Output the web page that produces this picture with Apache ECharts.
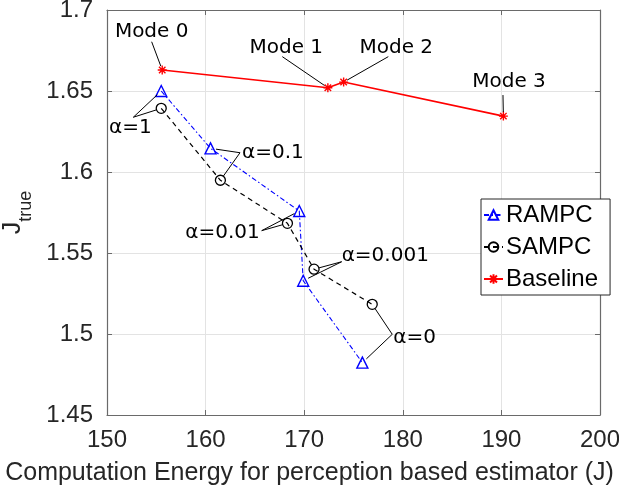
<!DOCTYPE html>
<html>
<head>
<meta charset="utf-8">
<script src="https://cdn.jsdelivr.net/npm/echarts@6/dist/echarts.min.js"></script>
<style>html,body{margin:0;padding:0;background:#fff}#c{width:619px;height:490px}</style>
</head>
<body>
<div id="c"></div>
<script>
// ---- data ----
const xTicks = [150, 160, 170, 180, 190, 200];
const yTicks = [1.45, 1.5, 1.55, 1.6, 1.65, 1.7];
const rampcX = [155.5, 160.5, 169.5, 169.9, 175.9];
const rampcY = [1.650, 1.6146, 1.5759, 1.5329, 1.4823];
const sampcX = [155.5, 161.5, 168.3, 171.0, 176.9];
const sampcY = [1.6393, 1.5949, 1.5683, 1.540, 1.5183];
const baseX = [155.6, 172.4, 174.0, 190.2];
const baseY = [1.663, 1.652, 1.6555, 1.6345];
const seriesNames = ['RAMPC', 'SAMPC', 'Baseline'];
const modeLabels = ['Mode 0', 'Mode 1', 'Mode 2', 'Mode 3'];
const alphaLabels = ['α=1', 'α=0.1', 'α=0.01', 'α=0.001', 'α=0'];

// annotation anchors (data coords where leader lines meet)
const modeAnchorX = [154.53, 167.78, 178.53, 190.16];
const modeAnchorY = [1.6804, 1.6712, 1.6712, 1.6475];
const alphaAnchorX = [152.67, 163.49, 165.69, 173.80, 178.93];
const alphaAnchorY = [1.6338, 1.6119, 1.5638, 1.5446, 1.4998];

// text placement relative to anchors (pixels) – style only
const modeTextPos = [[0,-10,'center'],[4,-9,'center'],[8,-9,'center'],[6,-13,'center']];
const alphaTextPos = [[-3,11,'center'],[2,0,'left'],[-2,2,'right'],[0,-6,'left'],[1,3,'left']];

const zip = (a, b) => a.map((v, i) => [v, b[i]]);
const axisCol = '#6a6a6a';
const txtCol = '#262626';
const asterisk = 'path://M0,-1L0,1M-1,0L1,0M-0.72,-0.72L0.72,0.72M-0.72,0.72L0.72,-0.72';

const chart = echarts.init(document.getElementById('c'), null, {renderer: 'canvas'});
const option = {
  animation: false,
  backgroundColor: '#fff',
  grid: {left: 107, right: 19, top: 10, bottom: 75, containLabel: false, outerBoundsMode: 'none'},
  legend: {
    orient: 'vertical', left: 481, top: 199,
    data: seriesNames,
    backgroundColor: '#fff', borderColor: '#262626', borderWidth: 1,
    padding: [4, 12, 4, 2], itemGap: 8, itemWidth: 19, itemHeight: 12,
    textStyle: {fontFamily: 'Liberation Sans', fontSize: 24, color: '#000', padding: [0,0,0,-2]}
  },
  xAxis: [{
    type: 'value', min: xTicks[0], max: xTicks[xTicks.length-1], interval: 10,
    name: 'Computation Energy for perception based estimator (J)',
    nameLocation: 'middle', nameGap: 46,
    nameTextStyle: {fontFamily: 'Liberation Sans', fontSize: 25, color: txtCol, padding: [0, 88, 0, 0]},
    axisLine: {show: true, onZero: false, lineStyle: {color: axisCol, width: 1.2}},
    axisTick: {show: true, inside: true, length: 5, lineStyle: {color: axisCol}},
    axisLabel: {fontFamily: 'Liberation Sans', fontSize: 24, color: txtCol, margin: 13},
    splitLine: {show: true, lineStyle: {color: '#e3e3e3', width: 1}}
  }, {
    type: 'value', position: 'top', min: xTicks[0], max: xTicks[xTicks.length-1], interval: 10,
    axisLine: {show: true, onZero: false, lineStyle: {color: axisCol, width: 1.2}},
    axisTick: {show: true, inside: true, length: 5, lineStyle: {color: axisCol}},
    axisLabel: {show: false}, splitLine: {show: false}
  }],
  yAxis: [{
    type: 'value', min: yTicks[0], max: yTicks[yTicks.length-1], interval: 0.05,
    name: '{a|J}{b|true}',
    nameLocation: 'middle', nameGap: 74, nameRotate: 90,
    nameTextStyle: {
      color: txtCol, fontFamily: 'Liberation Sans',
      rich: {
        a: {fontSize: 25, lineHeight: 26, verticalAlign: 'top', color: txtCol, fontFamily: 'Liberation Sans'},
        b: {fontSize: 18, lineHeight: 18, padding: [17, 0, 0, 0], verticalAlign: 'top', color: txtCol, fontFamily: 'Liberation Sans'}
      }
    },
    axisLine: {show: true, onZero: false, lineStyle: {color: axisCol, width: 1.2}},
    axisTick: {show: true, inside: true, length: 5, lineStyle: {color: axisCol}},
    axisLabel: {fontFamily: 'Liberation Sans', fontSize: 24, color: txtCol, margin: 14,
      formatter: v => String(+v.toFixed(2))},
    splitLine: {show: true, lineStyle: {color: '#e3e3e3', width: 1}}
  }, {
    type: 'value', position: 'right', min: yTicks[0], max: yTicks[yTicks.length-1], interval: 0.05,
    axisLine: {show: true, onZero: false, lineStyle: {color: axisCol, width: 1.2}},
    axisTick: {show: true, inside: true, length: 5, lineStyle: {color: axisCol}},
    axisLabel: {show: false}, splitLine: {show: false}
  }],
  series: [{
    name: seriesNames[0], type: 'line', data: zip(rampcX, rampcY),
    symbol: 'triangle', symbolSize: 11, showAllSymbol: true,
    lineStyle: {color: '#0000ff', width: 1.1, type: [5, 2.5, 1.5, 2.5]},
    itemStyle: {color: 'rgba(255,255,255,0)', borderColor: '#0000ff', borderWidth: 1.4},
    z: 3
  }, {
    name: seriesNames[1], type: 'line', data: zip(sampcX, sampcY),
    symbol: 'circle', symbolSize: 10, showAllSymbol: true,
    lineStyle: {color: '#000', width: 1.2, type: [5, 4]},
    itemStyle: {color: 'rgba(255,255,255,0)', borderColor: '#000', borderWidth: 1.3},
    z: 3
  }, {
    name: seriesNames[2], type: 'line', data: zip(baseX, baseY),
    symbol: asterisk, symbolSize: 9, showAllSymbol: true,
    lineStyle: {color: '#ff0000', width: 1.6},
    itemStyle: {color: '#ff0000', borderColor: '#ff0000', borderWidth: 1.4},
    z: 3
  }]
};
chart.setOption(option);

// ---- annotations (text arrows) ----
function px(x, y) { return chart.convertToPixel({xAxisIndex: 0, yAxisIndex: 0}, [x, y]); }
function leader(a, p, r) {
  const dx = p[0] - a[0], dy = p[1] - a[1];
  const d = Math.sqrt(dx*dx + dy*dy) || 1;
  const e = [p[0] - dx / d * r, p[1] - dy / d * r];
  return {type: 'line', shape: {x1: a[0], y1: a[1], x2: e[0], y2: e[1]},
    style: {stroke: '#000', lineWidth: 1}, z: 10};
}
function label(a, pos, text) {
  return {type: 'text', x: a[0] + pos[0], y: a[1] + pos[1], z: 11,
    style: {text: text, fill: '#000', font: '20px "DejaVu Sans"', align: pos[2], verticalAlign: 'middle'}};
}
const g = [];
modeLabels.forEach((t, i) => {
  const a = px(modeAnchorX[i], modeAnchorY[i]);
  const p = px(baseX[i], baseY[i]);
  g.push(leader(a, p, 4));
  g.push(label(a, modeTextPos[i], t));
});
alphaLabels.forEach((t, i) => {
  const a = px(alphaAnchorX[i], alphaAnchorY[i]);
  g.push(leader(a, px(rampcX[i], rampcY[i]), 5.5));
  g.push(leader(a, px(sampcX[i], sampcY[i]), 5));
  g.push(label(a, alphaTextPos[i], t));
});
chart.setOption({graphic: {elements: g}});
</script>
</body>
</html>
